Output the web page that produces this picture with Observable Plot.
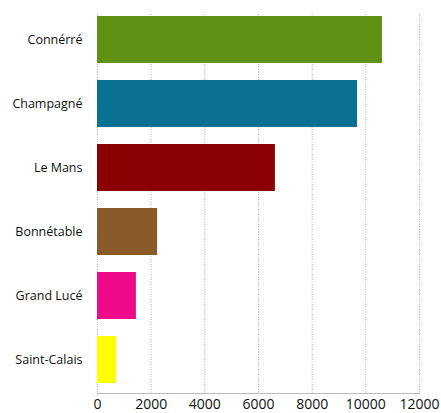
<!DOCTYPE html>
<html>
<head>
<meta charset="utf-8">
<script src="https://cdn.jsdelivr.net/npm/d3@7"></script>
<script src="https://cdn.jsdelivr.net/npm/@observablehq/plot@0.6"></script>
<style>
  html, body { margin: 0; padding: 0; background: #fff; }
  #chart svg { display: block; }
</style>
</head>
<body>
<div id="chart"></div>
<script>
const cities = ["Connérré", "Champagné", "Le Mans", "Bonnétable", "Grand Lucé", "Saint-Calais"];
const values = [10620, 9690, 6630, 2240, 1450, 710];
const colors = ["#5e9114", "#0a7192", "#8b0000", "#8b5a2b", "#ee0a8a", "#ffff00"];
const xTicks = [0, 2000, 4000, 6000, 8000, 10000, 12000];

const data = cities.map((c, i) => ({city: c, value: values[i], color: colors[i]}));

const chart = Plot.plot({
  width: 441,
  height: 413,
  marginLeft: 97,
  marginRight: 22,
  marginTop: 5,
  marginBottom: 20,
  style: {fontFamily: "'Open Sans', sans-serif", background: "#fff"},
  x: {domain: [0, 12000], ticks: xTicks, tickFormat: d => String(d), label: null},
  y: {domain: cities, paddingInner: 0.27, paddingOuter: 0.125, label: null},
  marks: [
    Plot.gridX(xTicks, {stroke: "#999", strokeOpacity: 1, strokeDasharray: "1,1.5", strokeWidth: 0.8, insetTop: 9}),
    Plot.barX(data, {y: "city", x: "value", fill: "color"}),
    Plot.frame({anchor: "bottom", stroke: "#bbb"}),
    Plot.axisX({ticks: xTicks, tickSize: 0, tickPadding: 6, fontSize: 14, fill: "#111", tickFormat: d => String(d)}),
    Plot.axisY({tickSize: 0, tickPadding: 15, fontSize: 12.5, fill: "#111"})
  ]
});
document.getElementById("chart").appendChild(chart);
</script>
</body>
</html>
